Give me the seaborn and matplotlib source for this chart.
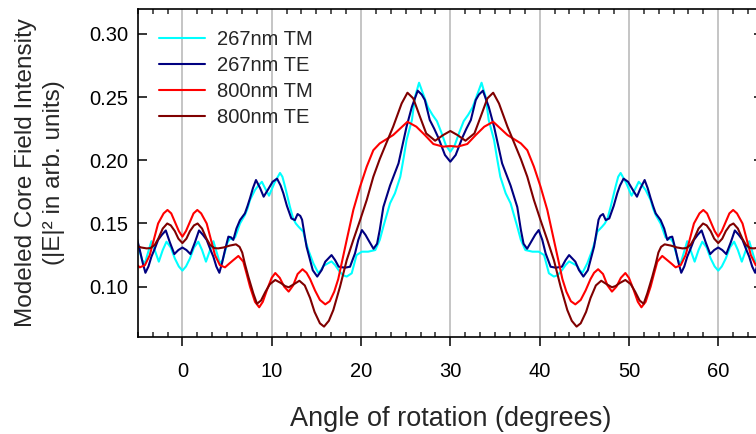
import pandas as pd
import seaborn as sns
import matplotlib
matplotlib.use("Agg")
import matplotlib.pyplot as plt
from matplotlib.ticker import MultipleLocator, AutoMinorLocator

# curves (angle in degrees, intensity in arb. units)
angle_267_tm = [-5.33, -5.05, -4.77, -4.5, -4.2, -3.85, -3.47, -3.05, -2.64, -2.2, -1.78, -1.3, -0.85, -0.4,
                0.0, 0.4, 0.85, 1.3, 1.78, 2.2, 2.64, 3.05, 3.47, 3.85, 4.2, 4.5, 4.77, 5.05, 5.33, 5.6, 5.9,
                6.2, 6.45, 7.0, 7.3, 7.57, 8.13, 8.5, 8.9, 9.25, 9.7, 10.3, 10.93, 11.2, 11.5, 12.05, 12.4,
                12.7, 13.0, 13.54, 13.8, 14.1, 14.66, 15.2, 15.5, 15.8, 16.3, 16.7, 17.1, 17.5, 18.0, 18.4,
                18.96, 19.5, 20.1, 20.8, 21.6, 22.1, 22.5, 23.25, 23.8, 24.4, 24.8, 25.1, 25.7, 26.05, 26.5,
                27.0, 27.5, 28.0, 28.5, 29.0, 29.5, 30.0,
                30.5, 31.0, 31.5, 32.0, 32.5, 33.0, 33.5, 33.95, 34.3, 34.9, 35.2, 35.6, 36.2, 36.75, 37.5,
                37.9, 38.4, 39.2, 39.9, 40.5, 41.04, 41.6, 42.0, 42.5, 42.9, 43.3, 43.7, 44.2, 44.5, 44.8,
                45.34, 45.9, 46.2, 46.46, 47.0, 47.3, 47.6, 47.95, 48.5, 48.8, 49.07, 49.7, 50.3, 50.75,
                51.1, 51.5, 51.87, 52.43, 52.7, 53.0, 53.55, 53.8, 54.1, 54.4, 54.67, 54.95, 55.23, 55.5,
                55.8, 56.15, 56.53, 56.95, 57.36, 57.8, 58.22, 58.7, 59.15, 59.6, 60.0,
                60.4, 60.85, 61.3, 61.78, 62.2, 62.64, 63.05, 63.47, 63.85, 64.2, 64.5, 64.77, 65.05, 65.33]
field_267_tm = [.138, .135, .1277, .121, .1185, .127, .136, .128, .1198, .129, .1356, .131, .1224, .116,
                .1127, .116, .1224, .131, .1356, .129, .1198, .128, .136, .127, .1185, .121, .1277, .135, .138,
                .1375, .139, .145, .150, .1567, .162, .1686, .1765, .180, .183, .178, .172, .182, .190, .187,
                .179, .163, .154, .150, .1475, .1435, .136, .129, .1185, .111, .113, .1164, .1185, .120,
                .1171, .113, .109, .108, .1106, .125, .1277, .1277, .129, .137, .1475, .166, .1739, .187,
                .203, .216, .2319, .2503, .2614, .2516, .242, .236, .231, .222, .212, .2068,
                .212, .222, .231, .236, .242, .2516, .2614, .2503, .2319, .216, .203, .187, .1739, .166,
                .1475, .137, .129, .1277, .1277, .125, .1106, .108, .109, .113, .1171, .120, .1185, .1164,
                .113, .111, .1185, .129, .136, .1435, .1475, .150, .154, .163, .179, .187, .190, .182, .172,
                .178, .183, .180, .1765, .1686, .162, .1567, .150, .145, .139, .1375, .138, .135, .1277,
                .121, .1185, .127, .136, .128, .1198, .129, .1356, .131, .1224, .116, .1127,
                .116, .1224, .131, .1356, .129, .1198, .128, .136, .127, .1185, .121, .1277, .135, .138]

angle_267_te = [-5.45, -5.15, -4.77, -4.45, -4.14, -3.8, -3.47, -3.1, -2.72, -2.3, -1.86, -1.4, -0.9, -0.45,
                0.0, 0.45, 0.9, 1.4, 1.86, 2.3, 2.72, 3.1, 3.47, 3.8, 4.14, 4.45, 4.77, 5.15, 5.45, 5.7,
                6.05, 6.45, 7.0, 7.3, 7.57, 7.9, 8.24, 8.7, 9.1, 9.6, 10.1, 10.6, 11.0, 11.3, 11.7, 12.2,
                12.6, 12.9, 13.2, 13.4, 13.9, 14.3, 14.6, 15.1, 15.6, 16.0, 16.7, 17.1, 17.5, 18.2, 18.77,
                19.33, 19.7, 20.1, 20.5, 20.82, 21.4, 21.8, 22.1, 22.5, 23.25, 24.2, 25.1, 25.7, 26.35,
                26.8, 27.15, 27.7, 28.2, 28.65, 29.4, 30.0,
                30.6, 31.35, 31.8, 32.3, 32.85, 33.2, 33.65, 34.3, 34.9, 35.8, 36.75, 37.5, 37.9, 38.2,
                38.6, 39.18, 39.5, 39.9, 40.3, 40.67, 41.23, 41.8, 42.5, 42.9, 43.3, 44.0, 44.4, 44.9,
                45.4, 45.7, 46.1, 46.6, 46.8, 47.1, 47.4, 47.8, 48.3, 48.7, 49.0, 49.4, 49.9, 50.4, 50.9,
                51.3, 51.76, 52.1, 52.43, 52.7, 53.0, 53.55, 53.95, 54.3, 54.55, 54.85, 55.23, 55.55,
                55.86, 56.2, 56.53, 56.9, 57.28, 57.7, 58.14, 58.6, 59.1, 59.55, 60.0,
                60.45, 60.9, 61.4, 61.86, 62.3, 62.72, 63.1, 63.47, 63.8, 64.14, 64.45, 64.77, 65.15, 65.45]
field_267_te = [.139, .1396, .129, .119, .111, .116, .1237, .130, .137, .141, .1445, .135, .1258, .129,
                .131, .129, .1258, .135, .1445, .141, .137, .130, .1237, .116, .111, .119, .129, .1396,
                .139, .137, .146, .1527, .158, .164, .170, .178, .1844, .178, .1712, .177, .183, .1855,
                .180, .174, .164, .154, .1527, .1575, .156, .153, .1317, .121, .113, .108, .1132, .1198,
                .125, .121, .1158, .115, .1158, .1264, .137, .1448, .141, .137, .130, .134, .145, .163,
                .180, .1976, .2266, .2424, .2551, .252, .2477, .2319, .225, .218, .2042, .1989,
                .2042, .218, .225, .2319, .2477, .252, .2551, .2424, .2266, .1976, .180, .163, .145, .134,
                .130, .137, .141, .1448, .137, .1264, .1158, .115, .1158, .121, .125, .1198, .1132, .108,
                .113, .121, .1317, .153, .156, .1575, .1527, .154, .164, .174, .180, .1855, .183, .177,
                .1712, .178, .1844, .178, .170, .164, .158, .1527, .146, .137, .139, .1396, .129, .119,
                .111, .116, .1237, .130, .137, .141, .1445, .135, .1258, .129, .131,
                .129, .1258, .135, .1445, .141, .137, .130, .1237, .116, .111, .119, .129, .1396, .139]

angle_800_tm = [-5.7, -5.2, -4.77, -4.2, -3.65, -3.2, -2.72, -2.1, -1.67, -1.25, -0.85, -0.4,
                0.0, 0.4, 0.85, 1.25, 1.67, 2.1, 2.72, 3.2, 3.65, 4.2, 4.77, 5.2, 5.7, 6.27, 6.82, 7.2,
                7.57, 8.13, 8.6, 9.0, 9.5, 10.0, 10.4, 10.9, 11.4, 11.9, 12.4, 12.9, 13.45, 13.9, 14.3,
                14.85, 15.4, 16.0, 16.5, 17.0, 17.45, 17.83, 18.4, 19.14, 19.89, 20.64, 21.38, 22.1, 22.8,
                23.6, 24.6, 25.2, 26.2, 27.15, 28.1, 29.2, 30.0,
                30.8, 31.9, 32.85, 33.8, 34.8, 35.4, 36.4, 37.2, 37.9, 38.62, 39.36, 40.11, 40.86, 41.6,
                42.17, 42.55, 43.0, 43.5, 44.0, 44.6, 45.15, 45.7, 46.1, 46.55, 47.1, 47.6, 48.1, 48.6,
                49.1, 49.6, 50.0, 50.5, 51.0, 51.4, 51.87, 52.43, 52.8, 53.18, 53.73, 54.3, 54.8, 55.23,
                55.8, 56.35, 56.8, 57.28, 57.9, 58.33, 58.75, 59.15, 59.6, 60.0,
                60.4, 60.85, 61.25, 61.67, 62.1, 62.72, 63.2, 63.65, 64.2, 64.77, 65.2, 65.7]
field_800_tm = [.121, .118, .1153, .117, .125, .137, .150, .158, .1607, .158, .1514, .144,
                .1396, .144, .1514, .158, .1607, .158, .150, .137, .125, .117, .1153, .118, .121, .1243,
                .1198, .110, .100, .088, .0837, .088, .098, .107, .1108, .107, .100, .0961, .101, .110,
                .1138, .111, .106, .097, .0895, .086, .0885, .096, .106, .1185, .137, .1607, .179, .195,
                .208, .2134, .2165, .220, .2266, .2305, .2266, .220, .2129, .2108, .2113,
                .2108, .2129, .220, .2266, .2305, .2266, .220, .2165, .2134, .208, .195, .179, .1607, .137,
                .1185, .106, .096, .0885, .086, .0895, .097, .106, .111, .1138, .110, .101, .0961, .100,
                .107, .1108, .107, .098, .088, .0837, .088, .100, .110, .1198, .1243, .121, .118, .1153,
                .117, .125, .137, .150, .158, .1607, .158, .1514, .144, .1396,
                .144, .1514, .158, .1607, .158, .150, .137, .125, .117, .1153, .118, .121]

angle_800_te = [-6.0, -5.3, -4.6, -4.0, -3.6, -3.1, -2.7, -2.2, -1.7, -1.3, -0.85, -0.45,
                0.0, 0.45, 0.85, 1.3, 1.7, 2.2, 2.7, 3.1, 3.6, 4.0, 4.6, 5.3, 6.0, 6.4, 6.7, 7.0, 7.38,
                7.94, 8.35, 8.8, 9.3, 9.8, 10.4, 11.0, 11.5, 11.9, 12.5, 13.1, 13.7, 14.3, 14.8, 15.4,
                15.86, 16.4, 16.9, 17.65, 18.4, 19.14, 19.9, 20.64, 21.38, 22.1, 22.8, 23.6, 24.55, 25.2,
                25.85, 26.6, 27.3, 28.3, 29.2, 30.0,
                30.8, 31.7, 32.7, 33.4, 34.15, 34.8, 35.45, 36.4, 37.2, 37.9, 38.62, 39.36, 40.1, 40.86,
                41.6, 42.35, 43.1, 43.6, 44.14, 44.6, 45.2, 45.7, 46.3, 46.9, 47.5, 48.1, 48.5, 49.0, 49.6,
                50.2, 50.7, 51.2, 51.65, 52.06, 52.62, 53.0, 53.3, 53.6, 54.0, 54.7, 55.4, 56.0, 56.4,
                56.9, 57.3, 57.8, 58.3, 58.7, 59.15, 59.55, 60.0,
                60.45, 60.85, 61.3, 61.7, 62.2, 62.7, 63.1, 63.6, 64.0, 64.6, 65.3, 66.0]
field_800_te = [.1335, .1325, .131, .1303, .1305, .133, .138, .146, .150, .1485, .144, .138,
                .1345, .138, .144, .1485, .150, .146, .138, .133, .1305, .1303, .131, .1325, .1335, .1315,
                .127, .118, .108, .0947, .0865, .089, .096, .102, .1053, .103, .1005, .0995, .102, .1047,
                .101, .091, .080, .071, .0684, .073, .0815, .100, .121, .137, .1527, .1686, .187, .201,
                .213, .2266, .245, .2535, .249, .2345, .2213, .2155, .220, .2232,
                .220, .2155, .2213, .2345, .249, .2535, .245, .2266, .213, .201, .187, .1686, .1527, .137,
                .121, .100, .0815, .073, .0684, .071, .080, .091, .101, .1047, .102, .0995, .1005, .103,
                .1053, .102, .096, .089, .0865, .0947, .108, .118, .127, .1315, .1335, .1325, .131, .1303,
                .1305, .133, .138, .146, .150, .1485, .144, .138, .1345,
                .138, .144, .1485, .150, .146, .138, .133, .1305, .1303, .131, .1325, .1335]

series_names = ["267nm TM", "267nm TE", "800nm TM", "800nm TE"]
series_colors = ["#00ffff", "#000080", "#ff0000", "#800000"]

df = pd.concat([
    pd.DataFrame({"angle": angle_267_tm, "intensity": field_267_tm, "series": series_names[0]}),
    pd.DataFrame({"angle": angle_267_te, "intensity": field_267_te, "series": series_names[1]}),
    pd.DataFrame({"angle": angle_800_tm, "intensity": field_800_tm, "series": series_names[2]}),
    pd.DataFrame({"angle": angle_800_te, "intensity": field_800_te, "series": series_names[3]}),
], ignore_index=True)

sns.set_style("ticks")
plt.rcParams["font.family"] = ["Liberation Sans", "DejaVu Sans"]

fig = plt.figure(figsize=(7.56, 4.34), dpi=100)
ax = fig.add_axes([0.1822, 0.2230, 0.8269, 0.757])

sns.lineplot(data=df, x="angle", y="intensity", hue="series", hue_order=series_names,
             palette=dict(zip(series_names, series_colors)), estimator=None, sort=False,
             linewidth=1.5, ax=ax)

ax.set_xlim(-5, 65)
ax.set_ylim(0.06, 0.32)
ax.xaxis.set_major_locator(MultipleLocator(10))
ax.xaxis.set_minor_locator(AutoMinorLocator(6))
ax.yaxis.set_major_locator(MultipleLocator(0.05))
ax.yaxis.set_major_formatter(matplotlib.ticker.FormatStrFormatter("%.2f"))

ax.grid(axis="x", which="major", color="#c0c0c0", linewidth=1.3)
ax.set_axisbelow(True)

for s in ax.spines.values():
    s.set_visible(True)
    s.set_linewidth(1.2)
    s.set_color("black")

ax.tick_params(axis="x", which="major", direction="out", length=6.2, width=1.1,
               top=False, bottom=True, labelsize=14.5, pad=12, colors="black")
ax.tick_params(axis="x", which="minor", direction="in", length=3.7, width=1.1,
               top=True, bottom=True)
ax.tick_params(axis="y", which="major", direction="in", length=6.2, width=1.1,
               left=True, right=True, labelsize=14.5, pad=7, colors="black")

ax.set_xlabel("Angle of rotation (degrees)", fontsize=19.5)
ax.xaxis.set_label_coords(0.5, -0.21)
ax.set_ylabel("Modeled Core Field Intensity\n(|E|² in arb. units)", fontsize=17.5,
              linespacing=1.35)
ax.yaxis.set_label_coords(-0.116, 0.5)

ax.legend(loc="upper left", bbox_to_anchor=(0.034, 0.935), frameon=False, fontsize=14.5,
          handlelength=2.3, handletextpad=0.6, labelspacing=0.35, borderpad=0, borderaxespad=0)

fig.savefig("out.png", dpi=100)
